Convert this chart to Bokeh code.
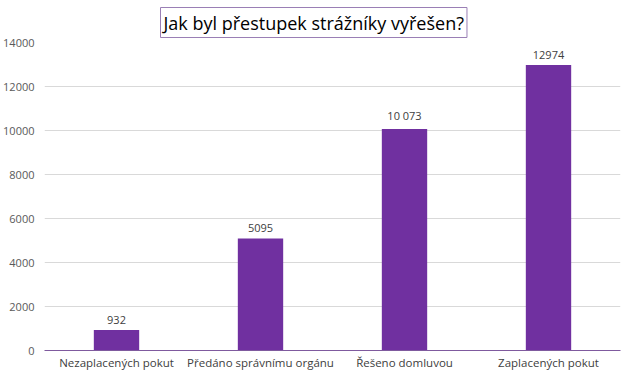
from bokeh.plotting import figure
from bokeh.models import ColumnDataSource, LabelSet, Range1d, FixedTicker
from bokeh.core.properties import value
from bokeh.embed import file_html
from bokeh.resources import INLINE

categories = ["Nezaplacených pokut", "Předáno správnímu orgánu", "Řešeno domluvou", "Zaplacených pokut"]
values = [932, 5095, 10073, 12974]
value_labels = ["932", "5095", "10 073", "12974"]
y_ticks = [0, 2000, 4000, 6000, 8000, 10000, 12000, 14000]

src = ColumnDataSource(dict(cat=categories, val=values, lab=value_labels))

p = figure(x_range=categories, y_range=Range1d(0, 14000),
           width=624, height=372,
           output_backend="svg", toolbar_location=None,
           min_border_left=40, min_border_right=4, min_border_bottom=0, min_border_top=0)

p.title.text = "Jak byl přestupek strážníky vyřešen?"
p.title.align = "left"
p.title.text_font = "Open Sans"
p.title.text_font_size = "18px"
p.title.text_font_style = "normal"
p.title.text_color = "#000000"
p.title.border_line_color = "#9a7fb5"
p.title.border_line_alpha = 1.0
p.title.border_line_width = 1
p.title.background_fill_color = "white"
p.title.padding = 3
p.title.standoff = 10
p.title.offset = 116

p.vbar(x="cat", top="val", width=0.315, source=src, color="#7030A0", line_color=None)

labels = LabelSet(x="cat", y="val", text="lab", source=src, text_align="center",
                  text_baseline="bottom", y_offset=6, text_font_size="11px",
                  text_font=value("Open Sans"), text_color="#404040")
p.add_layout(labels)

p.outline_line_color = None
p.xgrid.grid_line_color = None
p.ygrid.grid_line_color = "#d9d9d9"
p.yaxis.ticker = FixedTicker(ticks=y_ticks)
p.yaxis.axis_line_color = None
p.yaxis.major_tick_line_color = None
p.yaxis.minor_tick_line_color = None
p.yaxis.major_tick_out = 0
p.yaxis.major_label_text_font = "Open Sans"
p.yaxis.major_label_text_font_size = "11px"
p.yaxis.major_label_text_color = "#595959"
p.yaxis.major_label_standoff = 10

p.xaxis.axis_line_color = "#7f5a9e"
p.xaxis.major_tick_line_color = None
p.xaxis.minor_tick_line_color = None
p.xaxis.major_tick_out = 0
p.xaxis.major_tick_in = 0
p.xaxis.axis_label_standoff = 0
p.xaxis.major_label_text_font = "Open Sans"
p.xaxis.major_label_text_font_size = "11.5px"
p.xaxis.major_label_text_color = "#404040"
p.xaxis.major_label_standoff = 4
p.x_range.range_padding = 0

open("out.html", "w").write(file_html(p, INLINE))
